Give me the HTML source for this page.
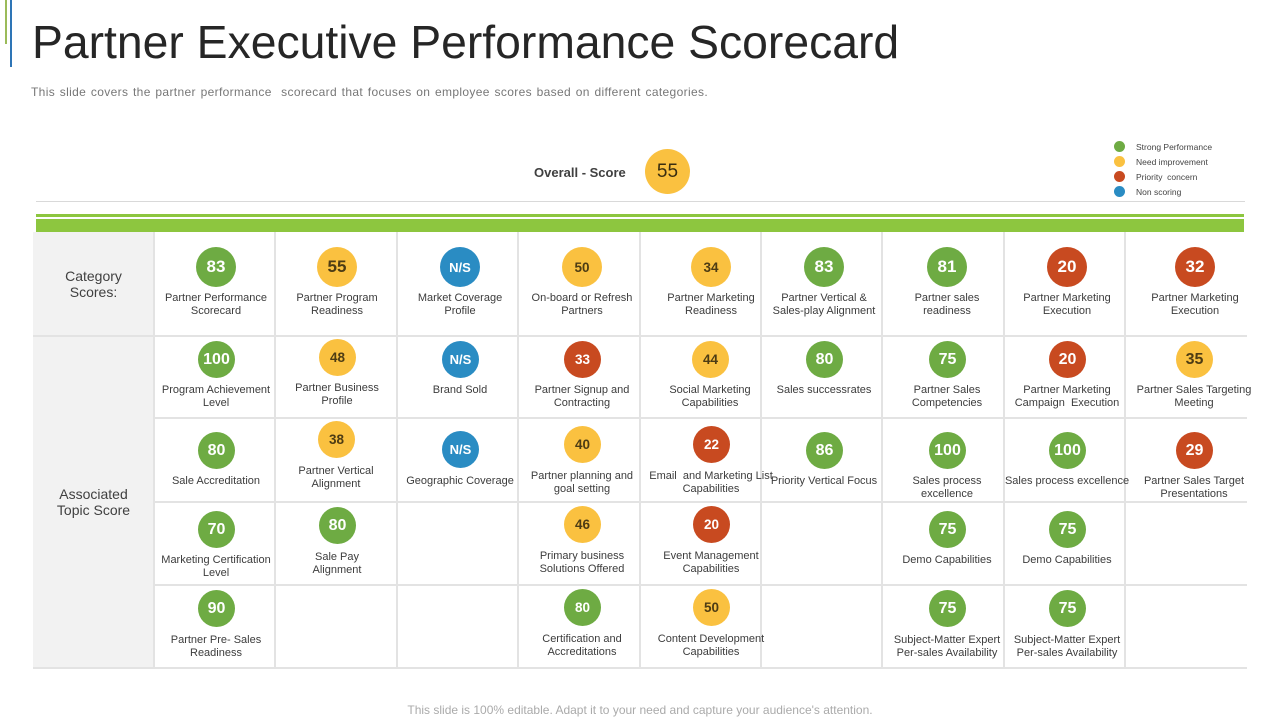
<!DOCTYPE html>
<html><head><meta charset="utf-8">
<style>
*{margin:0;padding:0;box-sizing:border-box}
body{width:1280px;height:720px;background:#fff;position:relative;overflow:hidden;font-family:"Liberation Sans",Arial,sans-serif}
.a{position:absolute}
.c{position:absolute;border-radius:50%;display:flex;align-items:center;justify-content:center;font-weight:bold;color:#fff;font-size:16px}
.g{background:#6eab43}
.y{background:#fac140;color:#4d3c14}
.r{background:#c84a20}
.b{background:#2a8cc3}
.sm{font-size:13.5px}
.ns{font-size:13px}
.t{position:absolute;width:130px;text-align:center;font-size:11px;line-height:13px;color:#3c3c3c;white-space:nowrap;margin-top:2px}
.hl{position:absolute;height:2px;background:#e3e3e3}
.vl{position:absolute;width:2px;background:#e3e3e3}
.lg{position:absolute;width:11px;height:11px;border-radius:50%;left:1114px}
.lt{position:absolute;left:1136px;font-size:8.5px;color:#444;line-height:10px}
</style></head><body>
<div class="a" style="left:5px;top:0;width:2px;height:44px;background:#9bbb59"></div>
<div class="a" style="left:10px;top:0;width:2px;height:67px;background:#2e75b6"></div>
<div class="a" style="left:32px;top:19px;font-size:46.3px;line-height:46px;color:#262626;white-space:nowrap">Partner Executive Performance Scorecard</div>
<div class="a" style="left:31px;top:85px;font-size:12px;line-height:14px;color:#777;letter-spacing:0.35px;word-spacing:1px;white-space:nowrap">This slide covers the partner performance&nbsp; scorecard that focuses on employee scores based on different categories.</div>

<div class="lg g" style="top:141px"></div><div class="lt" style="top:142px">Strong Performance</div>
<div class="lg y" style="top:156px"></div><div class="lt" style="top:157px">Need improvement</div>
<div class="lg r" style="top:171px"></div><div class="lt" style="top:172px">Priority&nbsp; concern</div>
<div class="lg b" style="top:186px"></div><div class="lt" style="top:187px">Non scoring</div>

<div class="a" style="left:534px;top:165px;font-size:13px;font-weight:bold;color:#404040;line-height:16px">Overall - Score</div>
<div class="c y" style="left:645px;top:149px;width:45px;height:45px;font-size:19px;font-weight:normal;color:#3a2e10">55</div>

<div class="a" style="left:36px;top:201px;width:1209px;height:1px;background:#d9d9d9"></div>
<div class="a" style="left:36px;top:214px;width:1208px;height:3px;background:#8dc63f"></div>
<div class="a" style="left:36px;top:219px;width:1208px;height:13px;background:#8dc63f"></div>

<div class="a" style="left:33px;top:232px;width:121px;height:436px;background:#f2f2f2"></div>
<div class="a" style="left:33px;top:268px;width:121px;text-align:center;font-size:14px;line-height:16px;color:#404040">Category<br>Scores:</div>
<div class="a" style="left:33px;top:486px;width:121px;text-align:center;font-size:14px;line-height:16px;color:#404040">Associated<br>Topic Score</div>

<div class="hl" style="left:33px;top:335px;width:1214px"></div>
<div class="hl" style="left:154px;top:417px;width:1093px"></div>
<div class="hl" style="left:154px;top:501px;width:1093px"></div>
<div class="hl" style="left:154px;top:584px;width:1093px"></div>
<div class="hl" style="left:33px;top:667px;width:1214px"></div>
<div class="vl" style="left:153px;top:232px;height:436px"></div>
<div class="vl" style="left:274px;top:232px;height:436px"></div>
<div class="vl" style="left:396px;top:232px;height:436px"></div>
<div class="vl" style="left:517px;top:232px;height:436px"></div>
<div class="vl" style="left:639px;top:232px;height:436px"></div>
<div class="vl" style="left:760px;top:232px;height:436px"></div>
<div class="vl" style="left:881px;top:232px;height:436px"></div>
<div class="vl" style="left:1003px;top:232px;height:436px"></div>
<div class="vl" style="left:1124px;top:232px;height:436px"></div>

<!-- header row -->
<div class="c g" style="left:196px;top:247px;width:40px;height:40px;font-size:17px">83</div>
<div class="t" style="left:151px;top:290px">Partner Performance<br>Scorecard</div>
<div class="c y" style="left:317px;top:247px;width:40px;height:40px;font-size:17px">55</div>
<div class="t" style="left:272px;top:290px">Partner Program<br>Readiness</div>
<div class="c b ns" style="left:440px;top:247px;width:40px;height:40px">N/S</div>
<div class="t" style="left:395px;top:290px">Market Coverage<br>Profile</div>
<div class="c y sm" style="left:562px;top:247px;width:40px;height:40px">50</div>
<div class="t" style="left:517px;top:290px">On-board or Refresh<br>Partners</div>
<div class="c y sm" style="left:691px;top:247px;width:40px;height:40px">34</div>
<div class="t" style="left:646px;top:290px">Partner Marketing<br>Readiness</div>
<div class="c g" style="left:804px;top:247px;width:40px;height:40px;font-size:17px">83</div>
<div class="t" style="left:759px;top:290px">Partner Vertical &amp;<br>Sales-play Alignment</div>
<div class="c g" style="left:927px;top:247px;width:40px;height:40px;font-size:17px">81</div>
<div class="t" style="left:882px;top:290px">Partner sales<br>readiness</div>
<div class="c r" style="left:1047px;top:247px;width:40px;height:40px;font-size:17px">20</div>
<div class="t" style="left:1002px;top:290px">Partner Marketing<br>Execution</div>
<div class="c r" style="left:1175px;top:247px;width:40px;height:40px;font-size:17px">32</div>
<div class="t" style="left:1130px;top:290px">Partner Marketing<br>Execution</div>

<!-- row 1 -->
<div class="c g" style="left:198px;top:341px;width:37px;height:37px">100</div>
<div class="t" style="left:151px;top:382px">Program Achievement<br>Level</div>
<div class="c y sm" style="left:319px;top:339px;width:37px;height:37px">48</div>
<div class="t" style="left:272px;top:380px">Partner Business<br>Profile</div>
<div class="c b ns" style="left:442px;top:341px;width:37px;height:37px">N/S</div>
<div class="t" style="left:395px;top:382px">Brand Sold</div>
<div class="c r sm" style="left:564px;top:341px;width:37px;height:37px">33</div>
<div class="t" style="left:517px;top:382px">Partner Signup and<br>Contracting</div>
<div class="c y sm" style="left:692px;top:341px;width:37px;height:37px">44</div>
<div class="t" style="left:645px;top:382px">Social Marketing<br>Capabilities</div>
<div class="c g" style="left:806px;top:341px;width:37px;height:37px">80</div>
<div class="t" style="left:759px;top:382px">Sales successrates</div>
<div class="c g" style="left:929px;top:341px;width:37px;height:37px">75</div>
<div class="t" style="left:882px;top:382px">Partner Sales<br>Competencies</div>
<div class="c r" style="left:1049px;top:341px;width:37px;height:37px">20</div>
<div class="t" style="left:1002px;top:382px">Partner Marketing<br>Campaign&nbsp; Execution</div>
<div class="c y" style="left:1176px;top:341px;width:37px;height:37px">35</div>
<div class="t" style="left:1129px;top:382px">Partner Sales Targeting<br>Meeting</div>

<!-- row 2 -->
<div class="c g" style="left:198px;top:432px;width:37px;height:37px">80</div>
<div class="t" style="left:151px;top:473px">Sale Accreditation</div>
<div class="c y sm" style="left:318px;top:421px;width:37px;height:37px">38</div>
<div class="t" style="left:271px;top:463px">Partner Vertical<br>Alignment</div>
<div class="c b ns" style="left:442px;top:431px;width:37px;height:37px">N/S</div>
<div class="t" style="left:395px;top:473px">Geographic Coverage</div>
<div class="c y sm" style="left:564px;top:426px;width:37px;height:37px">40</div>
<div class="t" style="left:517px;top:468px">Partner planning and<br>goal setting</div>
<div class="c r sm" style="left:693px;top:426px;width:37px;height:37px">22</div>
<div class="t" style="left:646px;top:468px">Email&nbsp; and Marketing List<br>Capabilities</div>
<div class="c g" style="left:806px;top:432px;width:37px;height:37px">86</div>
<div class="t" style="left:759px;top:473px">Priority Vertical Focus</div>
<div class="c g" style="left:929px;top:432px;width:37px;height:37px">100</div>
<div class="t" style="left:882px;top:473px">Sales process<br>excellence</div>
<div class="c g" style="left:1049px;top:432px;width:37px;height:37px">100</div>
<div class="t" style="left:1002px;top:473px">Sales process excellence</div>
<div class="c r" style="left:1176px;top:432px;width:37px;height:37px">29</div>
<div class="t" style="left:1129px;top:473px">Partner Sales Target<br>Presentations</div>

<!-- row 3 -->
<div class="c g" style="left:198px;top:511px;width:37px;height:37px">70</div>
<div class="t" style="left:151px;top:552px">Marketing Certification<br>Level</div>
<div class="c g" style="left:319px;top:507px;width:37px;height:37px">80</div>
<div class="t" style="left:272px;top:549px">Sale Pay<br>Alignment</div>
<div class="c y sm" style="left:564px;top:506px;width:37px;height:37px">46</div>
<div class="t" style="left:517px;top:548px">Primary business<br>Solutions Offered</div>
<div class="c r sm" style="left:693px;top:506px;width:37px;height:37px">20</div>
<div class="t" style="left:646px;top:548px">Event Management<br>Capabilities</div>
<div class="c g" style="left:929px;top:511px;width:37px;height:37px">75</div>
<div class="t" style="left:882px;top:552px">Demo Capabilities</div>
<div class="c g" style="left:1049px;top:511px;width:37px;height:37px">75</div>
<div class="t" style="left:1002px;top:552px">Demo Capabilities</div>

<!-- row 4 -->
<div class="c g" style="left:198px;top:590px;width:37px;height:37px">90</div>
<div class="t" style="left:151px;top:632px">Partner Pre- Sales<br>Readiness</div>
<div class="c g sm" style="left:564px;top:589px;width:37px;height:37px">80</div>
<div class="t" style="left:517px;top:631px">Certification and<br>Accreditations</div>
<div class="c y sm" style="left:693px;top:589px;width:37px;height:37px">50</div>
<div class="t" style="left:646px;top:631px">Content Development<br>Capabilities</div>
<div class="c g" style="left:929px;top:590px;width:37px;height:37px">75</div>
<div class="t" style="left:882px;top:632px">Subject-Matter Expert<br>Per-sales Availability</div>
<div class="c g" style="left:1049px;top:590px;width:37px;height:37px">75</div>
<div class="t" style="left:1002px;top:632px">Subject-Matter Expert<br>Per-sales Availability</div>

<div class="a" style="left:0;top:703px;width:1280px;text-align:center;font-size:12px;line-height:14px;color:#aaa">This slide is 100% editable. Adapt it to your need and capture your audience's attention.</div>
</body></html>
